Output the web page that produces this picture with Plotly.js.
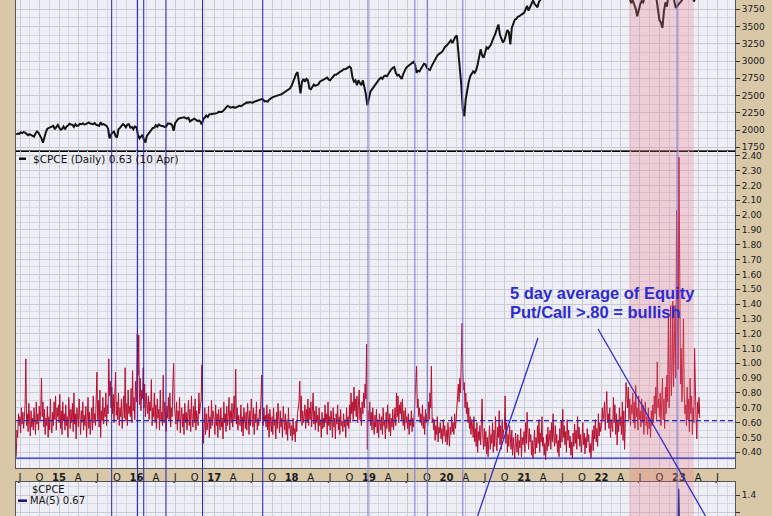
<!DOCTYPE html>
<html><head><meta charset="utf-8">
<script src="https://cdn.plot.ly/plotly-3.0.1.min.js"></script>
<style>html,body{margin:0;padding:0;background:#d8c8a8;}#chart{width:772px;height:516px;}</style>
</head><body><div id="chart"></div>
<script>
// ================= DATA =================
// S&P 500 weekly values. Each yearly array starts at its start date, one value per 7 days.
const spx2014 = [1935,1950,1945,1965,1955,1970,1962,1935,1925,1940,1930,1910,1905,1950,1978,1960,1925,1880,1815,1900,1970,2020,2030,2045,2050,2060,2010,2055,2075];
const spx2015 = [2040,2005,2015,2050,2010,2050,2065,2090,2080,2075,2045,2085,2060,2065,2090,2085,2095,2080,2085,2100,2110,2095,2090,2085,2100,2075,2070,2060,2110,2080,2085,2075,2060,2020,1880,1935,1965,1975,1915,1890,2010,2030,2060,2085,2070,2040,2080,2085,2035,2045,2010,2050];
const spx2016 = [2040,1930,1880,1900,1930,1860,1820,1915,1945,1975,2000,2030,2035,2070,2045,2080,2065,2065,2055,2045,2050,2095,2095,2090,2070,1990,2100,2130,2160,2170,2170,2180,2185,2180,2165,2175,2125,2140,2160,2165,2150,2130,2140,2120,2080,2160,2180,2210,2190,2225,2230,2235];
const spx2017 = [2240,2250,2245,2265,2260,2260,2275,2300,2335,2350,2340,2325,2330,2335,2320,2330,2345,2350,2345,2360,2370,2380,2400,2395,2405,2400,2395,2410,2420,2430,2440,2445,2450,2440,2415,2420,2410,2440,2460,2470,2480,2490,2500,2505,2510,2515,2530,2550,2560,2575,2590,2600];
const spx2018 = [2640,2700,2760,2810,2840,2640,2530,2700,2740,2700,2740,2720,2600,2590,2620,2660,2640,2650,2660,2700,2710,2720,2730,2750,2760,2730,2720,2750,2780,2800,2800,2820,2830,2850,2860,2880,2880,2890,2910,2920,2900,2760,2700,2720,2650,2720,2680,2650,2720,2640,2520,2360];
const spx2019 = [2450,2560,2590,2620,2650,2690,2710,2740,2760,2740,2780,2790,2780,2820,2860,2880,2900,2910,2830,2790,2800,2760,2740,2810,2870,2900,2920,2940,2960,2980,2990,2950,2830,2860,2850,2890,2930,2960,2950,2900,2880,2870,2920,2960,3010,3050,3080,3100,3110,3130,3160,3200];
const spx2020 = [3220,3250,3280,3300,3260,3320,3350,3370,3150,2900,2650,2300,2200,2450,2600,2700,2780,2820,2850,2830,2870,2950,3050,3170,3080,3050,3120,3200,3180,3210,3240,3300,3340,3400,3470,3530,3380,3310,3270,3300,3400,3450,3420,3240,3480,3560,3600,3610,3640,3650,3660,3680];
const spx2021 = [3700,3760,3800,3730,3780,3850,3880,3830,3800,3780,3860,3880,3910,3950,4020,4120,4160,4180,4200,4150,4160,4200,4220,4250,4230,4270,4330,4360,4380,4400,4410,4420,4440,4460,4480,4510,4470,4430,4400,4350,4380,4450,4520,4560,4620,4660,4680,4650,4600,4680,4700,4760];
const spx2022 = [4750,4700,4620,4420,4480,4500,4420,4350,4380,4300,4250,4420,4520,4550,4450,4420,4300,4150,4000,3900,3840,3880,3820,3760,3650,3760,3820,3870,3850,3920,4050,4130,4200,4260,4080,3950,4050,3900,3700,3590,3560,3480,3720,3850,3790,3950,3900,3980,3960,3880,3770,3800];
const spx2023 = [3830,3860,3880,3990,4070,4110,4080,4020,3960,4000,3860,3920,3980,4100,4110];

// $CPCE equity put/call ratio, one value every 3.5 days from each segment's start date.
const cpce2014 = [.37,.55,.50,.66,.58, .64,.53,.70,.59,.67,.56,.62,.72,1.03, .58,.66,.54,.73,.60,.51,.68,.57,.63, .55,.70,.62,.52,.74,.59,.66,.55,.71, .61,.68,.90,.64,.74,.57,.69,.52,.63, .58,.71,.50,.64,.55,.76,.60,.53, .67,.58,.74,.62,.78,.55,.70,.64,.72];
const cpce2015 = [.60,.79,.56,.68,.52,.74,.61,.66,.55, .72,.58,.64,.50,.77,.62,.56,.69, .60,.73,.54,.80,.59,.66,.49,.70,.62, .57,.76,.63,.52,.68,.60,.74,.55,.65, .58,.71,.50,.63,.77,.56,.67,.52,.62, .70,.55,.78,.60,.66,.58,.72,.94, .62,.75,.57,.82,.50,.68,.61,.77,.59, .70,.64,.80,.58,.72,.66,1.03,.78,.88, .70,.84,.66,.79,.60,.72,.94,.65, .74,.62,.80,.58,.70,.64,.76,.56,.68, .78,.63,.97,.61,.73,.58,.82,.66,.71, .64,.83,.60,.95,.68,.77,.62,.88];
const cpce2016 = [.74,1.20,.92,1.19,.72,.90,.68,.82,.76, .97,.70,.86,.64,.80,.72,.66,.78, .62,.74,.68,.89,.58,.70,.64,.80,.60, .72,.56,.76,.63,.69,.55,.82,.61,.67, .58,.92,.60,.74,.66,.54,.71,.63,.77, .62,.80,.57,.70,.64,.86,1.00,.72, .66,.59,.74,.55,.68,.61,.77,.53,.64, .70,.57,.66,.52,.73,.60,.67,.55,.62, .75,.58,.69,.54,.78,.62,.57,.71, .60,.76,.55,.68,.63,.58,.80,.66,.72, .74,.99,.62,.46,.58,.70,.52,.66,.55, .60,.71,.50,.64,.56,.75,.58,.68];
const cpce2017 = [.62,.52,.72,.58,.66,.50,.69,.61,.55, .70,.57,.63,.49,.74,.60,.66,.54, .71,.58,.64,.77,.55,.68,.60,.73,.57, .66,.78,.62,.96,.59,.70,.55,.65,.60, .58,.72,.54,.64,.51,.70,.60,.56,.67, .55,.73,.61,.52,.68,.58,.76,.63, .57,.70,.52,.66,.60,.74,.55,.63,.58, .69,.62,.75,.92,.66,.58,.70,.61,.65, .57,.72,.55,.66,.50,.69,.60,.54, .64,.52,.70,.58,.62,.49,.67,.56,.73, .60,.53,.68,.57,.63,.50,.71,.59,.55, .66,.52,.62,.48,.70,.56,.60,.51];
const cpce2018 = [.58,.48,.63,.52,.56,.47,.61,.54,.66, .70,.74,.88,.62,.78,.58,.68,.60, .64,.72,.56,.69,.60,.76,.58,.70,.62, .74,.57,.66,.80,.59,.68,.55,.71,.60, .65,.54,.70,.58,.62,.50,.67,.56,.63, .57,.72,.60,.66,.52,.74,.58,.64, .55,.68,.62,.50,.70,.57,.63,.49,.66, .59,.72,.55,.64,.52,.69,.58,.61,.54, .66,.57,.62,.50,.70,.58,.64,.56, .72,.60,.80,.66,.74,.62,.84,.68,.76, .64,.78,.60,.72,.82,.62,.70,.58,.74, .66,.80,.70,.86,.76,1.13,.42,.68];
const cpce2019 = [.62,.74,.58,.67,.55,.70,.60,.52,.65, .57,.69,.53,.62,.50,.66,.58,.55, .64,.52,.70,.58,.61,.49,.67,.56,.72, .60,.54,.66,.51,.63,.57,.69,.55,.62, .70,.58,.80,.64,.78,.60,.72,.66,.74, .62,.76,.58,.68,.55,.70,.60,.64, .56,.66,.52,.62,.58,.68,.54,.63,.57, .72,.80,.88,.98,.70,.76,.64,.70,.60, .66,.58,.72,.56,.64,.52,.69,.60, .66,.58,.74,.62,.80,.70,.98,.60,.63, .55,.62,.48,.58,.52,.64,.47,.57,.53, .60,.49,.56,.46,.62,.51,.58,.47];
const cpce2020 = [.55,.45,.60,.50,.44,.57,.52,.64,.54, .60,.52,.66,.56,.62,.70,.78,.86, .74,.90,.80,1.12,1.27,.95,.82,.87,.70, .80,.66,.74,.60,.70,.56,.64,.52,.62, .58,.50,.64,.47,.56,.44,.60,.40,.54, .48,.58,.45,.62,.76,.50,.42,.56, .44,.54,.39,.50,.37,.48,.58,.42,.52, .46,.60,.40,.55,.44,.64,.48,.41,.57, .50,.68,.45,.58,.42,.62,.49,.55, .56,.78,.46,.60,.40,.52,.44,.58,.48, .42,.55,.38,.50,.44,.36,.53,.46,.40, .52,.38,.48,.43,.56,.37,.50,.45];
const cpce2021 = [.54,.40,.60,.46,.67,.50,.42,.56,.47, .52,.38,.48,.36,.44,.55,.39,.50, .43,.58,.46,.62,.40,.53,.47,.64,.44, .50,.38,.46,.35,.52,.41,.57,.44,.49, .55,.42,.60,.47,.66,.50,.44,.58,.46, .52,.40,.48,.37,.56,.43,.61,.47, .69,.50,.58,.45,.54,.40,.62,.48,.55, .43,.51,.38,.47,.36,.53,.44,.59,.46, .55,.42,.64,.49,.57,.44,.52,.40, .48,.60,.45,.53,.39,.50,.43,.56,.47, .52,.40,.46,.36,.44,.55,.41,.58,.49, .62,.47,.56,.44,.66,.51,.60,.54];
const cpce2022 = [.58,.70,.62,.66,.74,.55,.68,.81,.60, .66,.56,.70,.50,.62,.58,.54,.77, .60,.72,.52,.66,.45,.62,.54,.70,.58, .64,.52,.74,.48,.68,.42,.60,.87,.78, .70,.84,.62,.76,.58,.72,.66,.80,.60, .74,.56,.85,.64,.70,.55,.78,.62, .68,.57,.76,.60,.72,.52,.66,.74,.58, .64,.52,.70,.56,.62,.50,.68,.58,.72, .60,.78,.66,.84,.62,1.01,.70,.76, .64,.80,.58,.72,.90,.62,.76,.56,.84, .66,.92,.74,1.33,.70,.86,1.39,.78,.95, 1.42,.84,1.20,1.39,.90,2.03,1.70,.96];
const cpce2023 = [2.39,1.45,.86,1.10,.74,.92,1.30,.80,.66, .72,.58,.84,.62,.76,.54,.90,.66, .78,.52,.70,.60,1.10,.68,.62,.49,.74, .66,.77,.63];

// MA(5) of $CPCE (lower panel, only the part above 1.16 is visible)
const ma5Dates  = ['2014-06-20','2015-01-01','2016-01-15','2017-01-01','2018-01-01','2019-01-01','2020-03-16','2021-01-01','2022-01-01','2022-11-15','2022-12-20','2022-12-28','2022-12-31','2023-01-03','2023-01-10','2023-02-15','2023-04-10'];
const ma5Values = [0.52,0.64,0.85,0.60,0.56,0.66,0.98,0.48,0.58,0.90,1.05,1.10,1.47,1.10,1.00,0.70,0.67];

// Marked dates (vertical blue lines) and the shaded period
const markDatesDark  = ['2015-09-06','2016-01-06','2016-02-04','2016-05-19','2016-11-07','2017-08-18'];
const markDatesLight = ['2018-12-27','2019-08-05','2019-10-04','2020-03-18','2022-12-23'];
const shadeStart = '2022-05-11', shadeEnd = '2023-03-12';
const refDashed = 0.614, refSolid = 0.36;

// Axis ticks
const xTickVals = ['2014-07-01','2014-10-01','2015-01-01','2015-04-01','2015-07-01','2015-10-01','2016-01-01','2016-04-01','2016-07-01','2016-10-01','2017-01-01','2017-04-01','2017-07-01','2017-10-01','2018-01-01','2018-04-01','2018-07-01','2018-10-01','2019-01-01','2019-04-01','2019-07-01','2019-10-01','2020-01-01','2020-04-01','2020-07-01','2020-10-01','2021-01-01','2021-04-01','2021-07-01','2021-10-01','2022-01-01','2022-04-01','2022-07-01','2022-10-01','2023-01-01','2023-04-01','2023-07-01'];
const xTickText = ['J','O','<b>15</b>','A','J','O','<b>16</b>','A','J','O','<b>17</b>','A','J','O','<b>18</b>','A','J','O','<b>19</b>','A','J','O','<b>20</b>','A','J','O','<b>21</b>','A','J','O','<b>22</b>','A','J','O','<b>23</b>','A','J'];
const cpceTicks = [0.4,0.5,0.6,0.7,0.8,0.9,1.0,1.1,1.2,1.3,1.4,1.5,1.6,1.7,1.8,1.9,2.0,2.1,2.2,2.3,2.4];

// ================= BUILD =================
function stepDates(start, stepDays, n) {
  const t0 = Date.parse(start + 'T00:00:00Z'), out = [];
  for (let i = 0; i < n; i++) out.push(new Date(t0 + i * stepDays * 86400000).toISOString().slice(0, 19).replace('T', ' '));
  return out;
}
function joinSegments(segs, step) {
  const x = [], y = [];
  segs.forEach(([s, v]) => { x.push(...stepDates(s, step, v.length)); y.push(...v); });
  return {x, y};
}
const spx = joinSegments([['2014-06-13',spx2014],['2015-01-01',spx2015],['2016-01-01',spx2016],['2017-01-01',spx2017],['2018-01-01',spx2018],['2019-01-01',spx2019],['2020-01-01',spx2020],['2021-01-01',spx2021],['2022-01-01',spx2022],['2023-01-01',spx2023]], 7);
const cpce = joinSegments([['2014-06-13',cpce2014],['2015-01-01',cpce2015],['2016-01-01',cpce2016],['2017-01-01',cpce2017],['2018-01-01',cpce2018],['2019-01-01',cpce2019],['2020-01-01',cpce2020],['2021-01-01',cpce2021],['2022-01-01',cpce2022],['2023-01-01',cpce2023]], 3.5);

const TAN = '#d8c8a8', BG = '#eeeef6', GRID = '#cacad6', GRIDMINOR = '#d8d8e2';
const NAVY = '#2424b4', LIGHTNAVY = '#7878da';
const tickFont = {family: 'DejaVu Sans', size: 9, color: '#1a1a1a'};

const traces = [
  {x: spx.x, y: spx.y, xaxis: 'x', yaxis: 'y', type: 'scatter', mode: 'lines', line: {color: '#141414', width: 2}, hoverinfo: 'skip'},
  {x: cpce.x, y: cpce.y, xaxis: 'x2', yaxis: 'y2', type: 'scatter', mode: 'lines', line: {color: '#b80f30', width: 1}, hoverinfo: 'skip'},
  {x: ma5Dates, y: ma5Values, xaxis: 'x3', yaxis: 'y3', type: 'scatter', mode: 'lines', line: {color: '#10107a', width: 1.2}, hoverinfo: 'skip'}
];

const xRange = ['2014-06-12', '2023-09-22'];
function xAxis(anchor, labels, extra) {
  return Object.assign({
    type: 'date', range: xRange, anchor: anchor, domain: [0, 1],
    tickmode: 'array', tickvals: xTickVals, ticktext: xTickText, showticklabels: labels,
    ticks: '', tickfont: {family: 'DejaVu Sans', size: 10, color: '#1a1a1a'},
    showgrid: true, gridcolor: GRID, gridwidth: 1,
    minor: {tickmode: 'linear', tick0: '2014-05-16', dtick: 'M3', showgrid: true, gridcolor: GRIDMINOR, ticks: ''},
    showline: true, linecolor: '#555', linewidth: 1, mirror: true, zeroline: false, fixedrange: true
  }, extra || {});
}
function yAxis(anchor, domain, range, extra) {
  return Object.assign({
    anchor: anchor, domain: domain, range: range, side: 'right',
    ticks: 'outside', ticklen: 4, tickcolor: '#333', tickfont: tickFont,
    showgrid: true, gridcolor: GRID, showline: true, linecolor: '#555', mirror: true, zeroline: false, fixedrange: true
  }, extra);
}

const shapes = [];
shapes.push({type: 'rect', xref: 'x', yref: 'paper', x0: shadeStart, x1: shadeEnd, y0: 0, y1: 1, fillcolor: 'rgba(238,120,130,0.27)', line: {width: 0}, layer: 'above'});
markDatesDark.forEach(d => shapes.push({type: 'line', xref: 'x', yref: 'paper', x0: d, x1: d, y0: 0, y1: 1, line: {color: NAVY, width: 1}, layer: 'above'}));
markDatesLight.forEach(d => shapes.push({type: 'line', xref: 'x', yref: 'paper', x0: d, x1: d, y0: 0, y1: 1, line: {color: LIGHTNAVY, width: 1}, layer: 'above'}));
shapes.push({type: 'line', xref: 'paper', yref: 'y2', x0: 0, x1: 1, y0: refDashed, y1: refDashed, line: {color: NAVY, width: 1.3, dash: '5px,3px'}, layer: 'above'});
shapes.push({type: 'line', xref: 'paper', yref: 'y2', x0: 0, x1: 1, y0: refSolid, y1: refSolid, line: {color: NAVY, width: 1.3}, layer: 'above'});
// pointer lines from the note
shapes.push({type: 'line', xref: 'paper', yref: 'paper', x0: 0.726, y0: 0.345, x1: 0.642, y1: 0, line: {color: '#2e2ec8', width: 1.3}, layer: 'above'});
shapes.push({type: 'line', xref: 'paper', yref: 'paper', x0: 0.8095, y0: 0.3624, x1: 0.959, y1: 0, line: {color: '#2e2ec8', width: 1.3}, layer: 'above'});
// legend dashes
shapes.push({type: 'line', xref: 'paper', yref: 'paper', x0: 0.0042, x1: 0.0139, y0: 0.6924, y1: 0.6924, line: {color: '#111', width: 2.5}, layer: 'above'});
shapes.push({type: 'line', xref: 'paper', yref: 'paper', x0: 0.0028, x1: 0.0153, y0: 0.0297, y1: 0.0297, line: {color: '#10107a', width: 2.5}, layer: 'above'});

const noteFont = {family: 'Liberation Sans, Arial', size: 16.5, color: '#2b2bd0'};
const annotations = [
  {xref: 'paper', yref: 'paper', x: 0.0209, y: 0.6924, xanchor: 'left', yanchor: 'middle', text: '$CPCE (Daily) 0.63 (10 Apr)', showarrow: false, font: {family: 'DejaVu Sans', size: 10.5, color: '#111'}},
  {xref: 'paper', yref: 'paper', x: 0.684, y: 0.4328, xanchor: 'left', yanchor: 'middle', text: '<b>5 day average of Equity</b>', showarrow: false, font: noteFont},
  {xref: 'paper', yref: 'paper', x: 0.684, y: 0.3948, xanchor: 'left', yanchor: 'middle', text: '<b>Put/Call >.80 = bullish</b>', showarrow: false, font: noteFont},
  {xref: 'paper', yref: 'paper', x: 0.0195, y: 0.0517, xanchor: 'left', yanchor: 'middle', text: '$CPCE', showarrow: false, font: {family: 'DejaVu Sans', size: 10, color: '#111'}},
  {xref: 'paper', yref: 'paper', x: 0.0167, y: 0.0297, xanchor: 'left', yanchor: 'middle', text: 'MA(5) 0.67', showarrow: false, font: {family: 'DejaVu Sans', size: 10, color: '#111'}}
];

const layout = {
  width: 772, height: 516, autosize: false,
  margin: {l: 16, r: 37, t: 0, b: 0, pad: 0},
  paper_bgcolor: TAN, plot_bgcolor: BG, showlegend: false, hovermode: false,
  xaxis: xAxis('y', false, {linecolor: '#000', linewidth: 1.5}),
  xaxis2: xAxis('y2', true),
  xaxis3: xAxis('y3', false),
  yaxis: yAxis('x', [0.7074, 1], [1696, 3885], {tickmode: 'linear', tick0: 1750, dtick: 250, minor: {tickmode: 'linear', tick0: 1625, dtick: 250, showgrid: true, gridcolor: GRIDMINOR, ticks: ''}}),
  yaxis2: yAxis('x2', [0.0930, 0.7074], [0.294, 2.432], {tickmode: 'array', tickvals: cpceTicks, tickformat: '.2f', minor: {tickmode: 'linear', tick0: 0.35, dtick: 0.1, showgrid: true, gridcolor: GRIDMINOR, ticks: ''}}),
  yaxis3: yAxis('x3', [0, 0.0659], [1.163, 1.547], {tickmode: 'linear', tick0: 1.2, dtick: 0.2, tickformat: '.1f', minor: {tickmode: 'linear', tick0: 1.3, dtick: 0.2, showgrid: true, gridcolor: GRIDMINOR, ticks: ''}}),
  shapes: shapes, annotations: annotations
};

Plotly.newPlot('chart', traces, layout, {staticPlot: true, displayModeBar: false});
</script>
</body></html>
